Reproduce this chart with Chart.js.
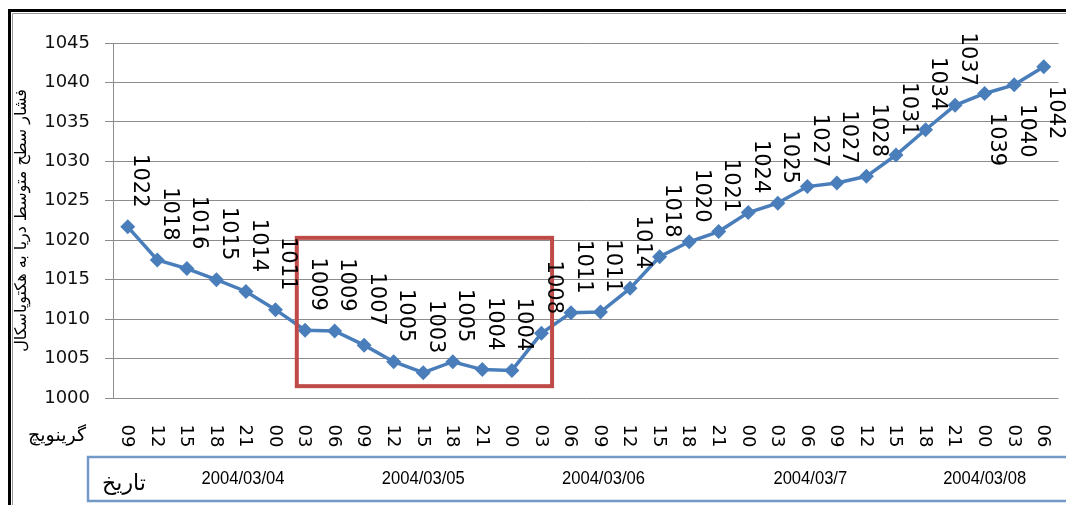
<!DOCTYPE html>
<html>
<head>
<meta charset="utf-8">
<script src="https://cdn.jsdelivr.net/npm/chart.js@4.4.0/dist/chart.umd.min.js"></script>
<style>
html,body{margin:0;padding:0;background:#fff;overflow:hidden}
#wrap{width:1066px;height:505px;position:relative}
</style>
</head>
<body>
<div id="wrap"><canvas id="c" width="1066" height="505"></canvas></div>
<script>
// ---- data ----
const hours = ['09','12','15','18','21','00','03','06','09','12','15','18','21','00','03','06',
               '09','12','15','18','21','00','03','06','09','12','15','18','21','00','03','06'];
const pressure = [1021.7,1017.5,1016.4,1015.0,1013.5,1011.2,1008.6,1008.5,1006.7,1004.6,1003.2,1004.6,
                  1003.6,1003.5,1008.2,1010.8,1010.9,1013.9,1017.9,1019.8,1021.1,1023.5,1024.7,1026.8,
                  1027.25,1028.1,1030.8,1034.0,1037.1,1038.6,1039.7,1042.0];
const dates = ['2004/03/04','2004/03/05','2004/03/06','2004/03/7','2004/03/08'];
const yTicks = [1000,1005,1010,1015,1020,1025,1030,1035,1040,1045];
const yTitle = 'فشار سطح متوسط دریا به هکتوپاسکال';
const hourTitle = 'گرینویچ';
const dateTitle = 'تاریخ';

const FONT = "'DejaVu Sans', sans-serif";

const overlay = {
  id: 'overlay',
  beforeDraw(chart) {
    const ctx = chart.ctx;
    ctx.save();
    ctx.fillStyle = '#fff';
    ctx.fillRect(0, 0, chart.width, chart.height);
    ctx.restore();
  },
  afterDatasetsDraw(chart, args, opts) {
    const ctx = chart.ctx;
    const xs = chart.scales.x, ys = chart.scales.y;
    const area = chart.chartArea;
    const meta = chart.getDatasetMeta(0);
    ctx.save();

    // highlight rectangle (category index / value coordinates)
    const h = opts.highlight;
    const rx1 = xs.getPixelForValue(h.x0), rx2 = xs.getPixelForValue(h.x1);
    const ry1 = ys.getPixelForValue(h.y1), ry2 = ys.getPixelForValue(h.y0);
    ctx.strokeStyle = '#BE4B48';
    ctx.lineWidth = 4;
    ctx.strokeRect(rx1, ry1, rx2 - rx1, ry2 - ry1);

    // data labels, rotated clockwise
    ctx.fillStyle = '#000';
    ctx.font = '21px ' + FONT;
    ctx.textAlign = 'center';
    ctx.textBaseline = 'middle';
    meta.data.forEach((pt, i) => {
      const txt = String(Math.round(pressure[i]));
      let cy = pt.y - 46;
      if (cy - 27 < area.top - 15) cy = pt.y + 46;
      ctx.save();
      ctx.translate(pt.x + 12, cy);
      ctx.rotate(Math.PI / 2);
      ctx.fillText(txt, 0, 0);
      ctx.restore();
    });

    // hour tick labels, rotated clockwise
    ctx.font = '18px ' + FONT;
    hours.forEach((lab, i) => {
      const x = xs.getPixelForValue(i);
      ctx.save();
      ctx.translate(x - 1, area.bottom + 38);
      ctx.rotate(Math.PI / 2);
      ctx.fillText(lab, 0, 0);
      ctx.restore();
    });

    // hour title
    ctx.font = '19px ' + FONT;
    ctx.fillText(hourTitle, 57, area.bottom + 38);

    // date box
    ctx.strokeStyle = '#7399C6';
    ctx.lineWidth = 2.5;
    ctx.beginPath();
    ctx.moveTo(chart.width + 5, 457);
    ctx.lineTo(88, 457);
    ctx.lineTo(88, 501);
    ctx.lineTo(chart.width + 5, 501);
    ctx.stroke();

    ctx.font = '22px ' + FONT;
    ctx.fillText(dateTitle, 124, 484);

    // date labels (condensed)
    ctx.font = "19px 'Liberation Sans Narrow', 'Liberation Sans', sans-serif";
    const ref = ctx.measureText('2004/03/04').width;
    const sx = 83 / ref;
    dates.forEach((d, i) => {
      const x = xs.getPixelForValue(opts.dateAnchors[i]);
      ctx.save();
      ctx.translate(x, 479);
      ctx.scale(sx, 1);
      ctx.fillText(d, 0, 0);
      ctx.restore();
    });

    // outer frame
    ctx.strokeStyle = '#000';
    ctx.lineWidth = 3;
    ctx.beginPath();
    ctx.moveTo(9.5, chart.height + 5);
    ctx.lineTo(9.5, 10.5);
    ctx.lineTo(chart.width + 5, 10.5);
    ctx.stroke();
    ctx.strokeStyle = '#9a9a9a';
    ctx.lineWidth = 1;
    ctx.beginPath();
    ctx.moveTo(12.5, chart.height + 5);
    ctx.lineTo(12.5, 13.5);
    ctx.lineTo(chart.width + 5, 13.5);
    ctx.stroke();

    ctx.restore();
  }
};

new Chart(document.getElementById('c'), {
  type: 'line',
  data: {
    labels: hours,
    datasets: [{
      data: pressure,
      borderColor: '#4A7EBB',
      backgroundColor: '#4A7EBB',
      borderWidth: 3.5,
      tension: 0,
      pointStyle: 'rectRot',
      pointRadius: 7.5,
      pointBorderWidth: 0,
      pointBackgroundColor: '#4A7EBB'
    }]
  },
  options: {
    responsive: false,
    animation: false,
    devicePixelRatio: 1,
    layout: { padding: { left: 0, top: 43, right: 6, bottom: 0 } },
    plugins: {
      legend: { display: false },
      tooltip: { enabled: false },
      overlay: {
        highlight: { x0: 5.72, x1: 14.36, y0: 1001.5, y1: 1020.3 },
        dateAnchors: [3.9, 10.0, 16.1, 23.1, 29.0]
      }
    },
    scales: {
      x: {
        type: 'category',
        offset: true,
        grid: { display: false },
        border: { display: false },
        ticks: { display: false },
        afterFit(s) { s.height = 107; }
      },
      y: {
        min: 1000,
        max: 1045,
        afterBuildTicks(s) { s.ticks = yTicks.map(v => ({ value: v })); },
        ticks: {
          font: { family: FONT, size: 18 },
          color: '#111',
          padding: 15,
          callback: (v) => String(v)
        },
        grid: { color: '#8c8c8c', lineWidth: 1, tickLength: 8 },
        border: { display: true, color: '#8c8c8c', width: 1 },
        title: {
          display: true,
          text: yTitle,
          font: { family: FONT, size: 16 },
          color: '#000',
          padding: { top: 12, bottom: 0 }
        },
        afterFit(s) { s.width = 113; }
      }
    }
  },
  plugins: [overlay]
});
</script>
</body>
</html>
